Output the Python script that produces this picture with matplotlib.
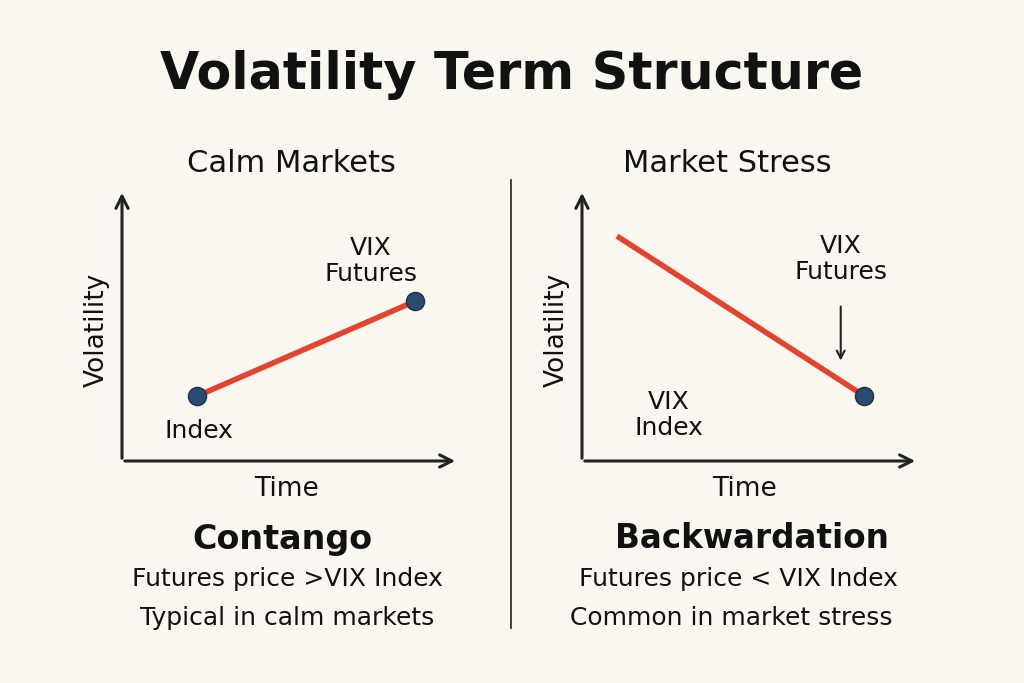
import matplotlib.pyplot as plt

BG = "#faf7f0"
RED = "#e2452f"
DOT = "#2b4a70"

calm_x = [0.224, 0.873]
calm_y = [0.24, 0.59]
stress_x = [0.104, 0.84]
stress_y = [0.83, 0.24]

W, H = 1024, 683
fig = plt.figure(figsize=(W / 100, H / 100), dpi=100, facecolor=BG)
plt.rcParams["font.family"] = ["DejaVu Sans"]


def fx(px):
    return px / W


def fy(py):
    return 1 - py / H


def panel(x0, xs, ys, dot_idx):
    ax = fig.add_axes([fx(x0), fy(461), fx(336), 271 / H])
    ax.set_xlim(0, 1)
    ax.set_ylim(0, 1)
    ax.axis("off")
    ax.patch.set_alpha(0)
    ak = dict(arrowstyle="->", lw=2.2, color="#222222", mutation_scale=22)
    ax.annotate("", xy=(0, 1), xytext=(0, 0), arrowprops=ak, annotation_clip=False)
    ax.annotate("", xy=(1, 0), xytext=(0, 0), arrowprops=ak, annotation_clip=False)
    ax.plot(xs, ys, color=RED, lw=4, solid_capstyle="butt", zorder=2)
    ax.scatter([xs[i] for i in dot_idx], [ys[i] for i in dot_idx], s=170,
               color=DOT, edgecolor="#1c2f48", lw=1, zorder=3)
    return ax


panel(122, calm_x, calm_y, [0, 1])
ax2 = panel(582, stress_x, stress_y, [1])
ax2.annotate("", xy=(0.77, 0.36), xytext=(0.77, 0.58),
             arrowprops=dict(arrowstyle="->", lw=1.5, color="#222222", mutation_scale=14))

# divider
fig.add_artist(plt.Line2D([fx(511), fx(511)], [fy(180), fy(628)], color="#333333", lw=1.3))

txt = dict(ha="center", va="center", color="#111111")
fig.text(0.5, fy(75), "Volatility Term Structure", fontsize=36.5, fontweight="bold", **txt)

fig.text(fx(291), fy(163), "Calm Markets", fontsize=22, **txt)
fig.text(fx(727), fy(163), "Market Stress", fontsize=22, **txt)
fig.text(fx(97), fy(330), "Volatility", fontsize=19, rotation=90, **txt)
fig.text(fx(557), fy(330), "Volatility", fontsize=19, rotation=90, **txt)
fig.text(fx(287), fy(489), "Time", fontsize=19, **txt)
fig.text(fx(745), fy(489), "Time", fontsize=19, **txt)

fig.text(fx(371), fy(261), "VIX\nFutures", fontsize=18, linespacing=1.15, **txt)
fig.text(fx(199), fy(431), "Index", fontsize=18, **txt)
fig.text(fx(841), fy(259), "VIX\nFutures", fontsize=18, linespacing=1.15, **txt)
fig.text(fx(669), fy(415), "VIX\nIndex", fontsize=18, linespacing=1.15, **txt)

fig.text(fx(282), fy(539), "Contango", fontsize=24, fontweight="bold", **txt)
fig.text(fx(287), fy(579), "Futures price >VIX Index", fontsize=18, **txt)
fig.text(fx(287), fy(618), "Typical in calm markets", fontsize=18, **txt)
fig.text(fx(752), fy(539), "Backwardation", fontsize=23.5, fontweight="bold", **txt)
fig.text(fx(738), fy(579), "Futures price < VIX Index", fontsize=18, **txt)
fig.text(fx(731), fy(618), "Common in market stress", fontsize=18, **txt)

fig.savefig("out.png", dpi=100, facecolor=BG)
